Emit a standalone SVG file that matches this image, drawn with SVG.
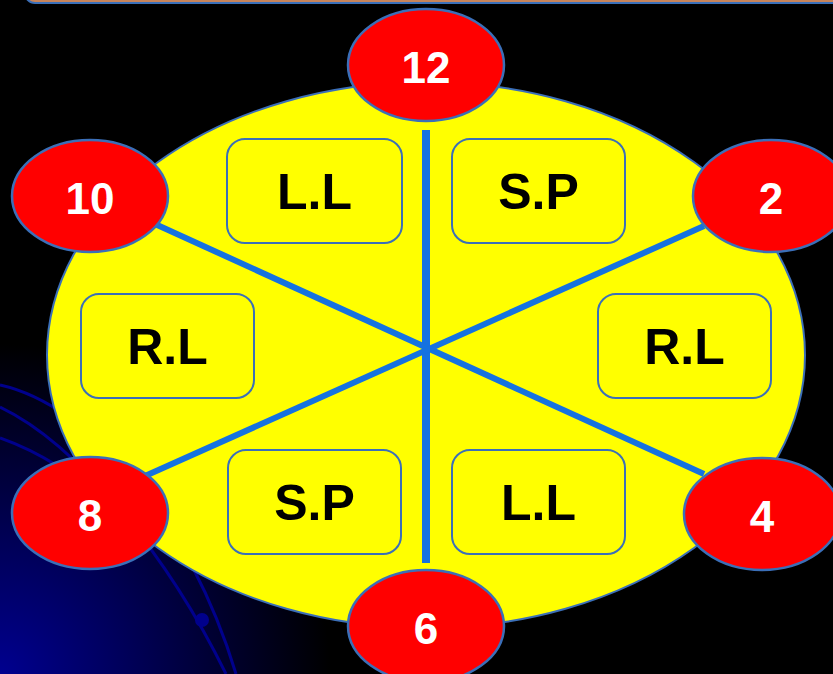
<svg xmlns="http://www.w3.org/2000/svg" width="833" height="674" viewBox="0 0 833 674">
<defs>
<radialGradient id="bg" cx="0" cy="674" r="330" gradientUnits="userSpaceOnUse">
<stop offset="0" stop-color="#00008f"/>
<stop offset="0.45" stop-color="#000050"/>
<stop offset="1" stop-color="#000000"/>
</radialGradient>
<style>
.num{fill:#ff0000;stroke:#3b6fb8;stroke-width:2.5}
.numt{font-family:"Liberation Sans",Arial,sans-serif;font-weight:bold;font-size:44px;fill:#ffffff;text-anchor:middle}
.box{fill:#ffff00;stroke:#3b6fb8;stroke-width:2}
.boxt{font-family:"Liberation Sans",Arial,sans-serif;font-weight:bold;font-size:50px;fill:#000000;text-anchor:middle}
.arc{fill:none;stroke:#00008c;stroke-width:3}
.ln{stroke:#1572e0;stroke-linecap:butt}
</style>
</defs>
<rect width="833" height="674" fill="#000"/>
<rect width="833" height="674" fill="url(#bg)"/>
<rect x="25" y="-20" width="830" height="23" rx="10" fill="#c8845a" stroke="#3b6fb8" stroke-width="2"/>
<g id="background-arcs">
<path class="arc" d="M0,385 C90,405 190,520 236,674"/>
<path class="arc" d="M0,407 C80,445 170,560 226,674"/>
<path class="arc" d="M0,438 C40,452 80,478 110,505"/>
<circle cx="202" cy="620" r="7" fill="#00008c"/>
</g>
<g id="clock-face">
<ellipse cx="426" cy="355" rx="379" ry="273" fill="#ffff00" stroke="#3b6fb8" stroke-width="2"/>
</g>
<g id="connectors">
<line class="ln" x1="426" y1="130" x2="426" y2="563" stroke-width="8"/>
<line class="ln" x1="155" y1="224" x2="704" y2="474" stroke-width="6"/>
<line class="ln" x1="145" y1="476" x2="704" y2="226" stroke-width="6"/>
</g>
<g id="box-ll-top"><rect class="box" x="227" y="139" width="175" height="104" rx="18"/><text class="boxt" x="314.5" y="209">L.L</text></g>
<g id="box-sp-top"><rect class="box" x="452" y="139" width="173" height="104" rx="18"/><text class="boxt" x="538.5" y="209">S.P</text></g>
<g id="box-rl-left"><rect class="box" x="81" y="294" width="173" height="104" rx="18"/><text class="boxt" x="167.5" y="364">R.L</text></g>
<g id="box-rl-right"><rect class="box" x="598" y="294" width="173" height="104" rx="18"/><text class="boxt" x="684.5" y="364">R.L</text></g>
<g id="box-sp-bottom"><rect class="box" x="228" y="450" width="173" height="104" rx="18"/><text class="boxt" x="314.5" y="520">S.P</text></g>
<g id="box-ll-bottom"><rect class="box" x="452" y="450" width="173" height="104" rx="18"/><text class="boxt" x="538.5" y="520">L.L</text></g>
<g id="n12"><ellipse class="num" cx="426" cy="65" rx="78" ry="56"/><text class="numt" x="426" y="83">12</text></g>
<g id="n10"><ellipse class="num" cx="90" cy="196" rx="78" ry="56"/><text class="numt" x="90" y="214">10</text></g>
<g id="n2"><ellipse class="num" cx="771" cy="196" rx="78" ry="56"/><text class="numt" x="771" y="214">2</text></g>
<g id="n8"><ellipse class="num" cx="90" cy="513" rx="78" ry="56"/><text class="numt" x="90" y="531">8</text></g>
<g id="n4"><ellipse class="num" cx="762" cy="514" rx="78" ry="56"/><text class="numt" x="762" y="532">4</text></g>
<g id="n6"><ellipse class="num" cx="426" cy="626" rx="78" ry="56"/><text class="numt" x="426" y="644">6</text></g>
</svg>
